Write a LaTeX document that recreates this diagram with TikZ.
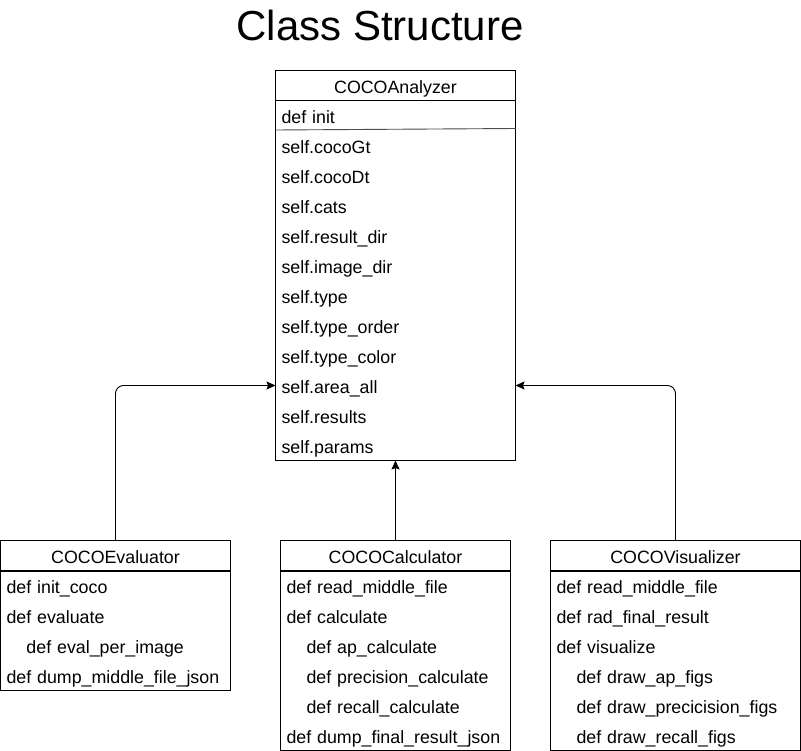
\documentclass[tikz,border=0pt]{standalone}
\usepackage{fontspec}
\setmainfont{Liberation Sans}
\usetikzlibrary{arrows.meta}
\begin{document}
\begin{tikzpicture}[x=1pt,y=-1pt,
  every node/.style={font=\fontsize{17.8}{21}\selectfont},
  head/.style={draw, minimum height=30pt, inner sep=0pt, text height=17pt, text depth=1pt, anchor=center},
  row/.style={minimum height=30pt, inner ysep=0pt, inner xsep=6pt, text height=15pt, text depth=1pt, align=left, anchor=center},
  conn/.style={-{Stealth[length=9pt,width=8pt,inset=1.5pt]}, line width=0.9pt, rounded corners=8pt},
  box/.style={draw, line width=0.9pt},
  sep/.style={draw=black!70, line width=0.9pt}]
\useasboundingbox (0,0) rectangle (801,751);
\node (title) at (380,25) {\fontsize{42}{47}\selectfont Class Structure};

% COCOAnalyzer
\node[head, box, minimum width=240pt] (ana) at (395.5,85.5) {COCOAnalyzer};
\foreach \t [count=\i from 0] in {def init,self.cocoGt,self.cocoDt,self.cats,self.result\_dir,self.image\_dir,self.type,self.type\_order,self.type\_color,self.area\_all,self.results,self.params}{
  \node[row, text width=228pt] (ana\i) at (395.5,{116.5+30*\i}) {\t};
}
\draw[box] (ana.south west) rectangle (515.5,460.5);
\draw[sep] (275.5,130) -- (515.5,128.5);

% COCOEvaluator
\node[head, box, minimum width=230pt] (eva) at (115.5,555.5) {COCOEvaluator};
\node[row, text width=218pt] (eva0) at (115.5,586.5) {def init\_coco};
\node[row, text width=218pt] (eva1) at (115.5,616.5) {def evaluate};
\node[row, text width=218pt] (eva2) at (115.5,646.5) {\hspace*{20pt}def eval\_per\_image};
\node[row, text width=218pt] (eva3) at (115.5,676.5) {def dump\_middle\_file\_json};
\draw[box] (eva.south west) rectangle (230.5,690.5);

% COCOCalculator
\node[head, box, minimum width=230pt] (cal) at (395.5,555.5) {COCOCalculator};
\node[row, text width=218pt] (cal0) at (395.5,586.5) {def read\_middle\_file};
\node[row, text width=218pt] (cal1) at (395.5,616.5) {def calculate};
\node[row, text width=218pt] (cal2) at (395.5,646.5) {\hspace*{20pt}def ap\_calculate};
\node[row, text width=218pt] (cal3) at (395.5,676.5) {\hspace*{20pt}def precision\_calculate};
\node[row, text width=218pt] (cal4) at (395.5,706.5) {\hspace*{20pt}def recall\_calculate};
\node[row, text width=218pt] (cal5) at (395.5,736.5) {def dump\_final\_result\_json};
\draw[box] (cal.south west) rectangle (510.5,750.5);

% COCOVisualizer
\node[head, box, minimum width=250pt] (vis) at (675.5,555.5) {COCOVisualizer};
\node[row, text width=238pt] (vis0) at (675.5,586.5) {def read\_middle\_file};
\node[row, text width=238pt] (vis1) at (675.5,616.5) {def rad\_final\_result};
\node[row, text width=238pt] (vis2) at (675.5,646.5) {def visualize};
\node[row, text width=238pt] (vis3) at (675.5,676.5) {\hspace*{20pt}def draw\_ap\_figs};
\node[row, text width=238pt] (vis4) at (675.5,706.5) {\hspace*{20pt}def draw\_precicision\_figs};
\node[row, text width=238pt] (vis5) at (675.5,736.5) {\hspace*{20pt}def draw\_recall\_figs};
\draw[box] (vis.south west) rectangle (800.5,750.5);

% connectors
\coordinate (anaL) at (275.5,385.5);
\coordinate (anaR) at (515.5,385.5);
\coordinate (anaB) at (395.5,460.5);
\draw[conn] (eva.north) |- (anaL);
\draw[conn] (vis.north) |- (anaR);
\draw[conn] (cal.north) -- (anaB);
\end{tikzpicture}
\end{document}
